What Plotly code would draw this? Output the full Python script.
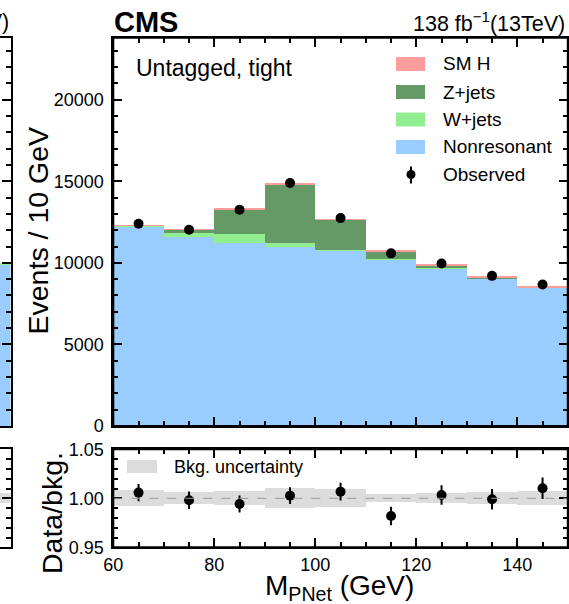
import plotly.graph_objects as go

# ---- binned M_PNet spectrum, 60-150 GeV in 10 GeV bins ----
bin_centers = [65, 75, 85, 95, 105, 115, 125, 135, 145]
bin_width = 10

nonresonant = [12250, 11610, 11245, 10980, 10770, 10240, 9690, 9060, 8485]
w_jets = [40, 230, 515, 230, 30, 10, 30, 15, 10]
z_jets = [10, 200, 1540, 3620, 1870, 490, 140, 60, 25]
sm_higgs = [15, 25, 30, 35, 30, 55, 80, 85, 55]

observed = [12393, 12025, 13252, 14890, 12742, 10583, 9957, 9202, 8669]
observed_err = [111, 110, 115, 122, 113, 103, 100, 96, 93]

# ratio panel
ratio = [1.0058, 0.9980, 0.9942, 1.0027, 1.0068, 0.9819, 1.0034, 0.9990, 1.0103]
ratio_err = [0.0089, 0.0089, 0.0087, 0.0085, 0.0090, 0.0095, 0.0100, 0.0104, 0.0110]
bkg_unc = [0.0077, 0.0060, 0.0068, 0.0099, 0.0092, 0.0036, 0.0055, 0.0058, 0.0071]

# neighbouring category panel (only its last bin edge is in view)
nb_centers = [145]
nb_nonresonant = [9940]
nb_w_jets = [45]
nb_unc = [0.005]

x_ticks = [60, 80, 100, 120, 140]
x_tick_text = ["60", "80", "100", "120", "140"]
y_ticks = [0, 5000, 10000, 15000, 20000]
y_tick_text = ["0", "5000", "10000", "15000", "20000"]
r_ticks = [0.95, 1.00, 1.05]
r_tick_text = ["0.95", "1.00", "1.05"]

COL_H = "#ff9c9c"
COL_Z = "#659965"
COL_W = "#91ee91"
COL_NR = "#99ccff"
COL_UNC = "#dcdcdc"

FONT = "Liberation Sans, Arial, Helvetica, sans-serif"
W, H = 569, 604


def px(x):
    return x / W


def py(y):
    return 1 - y / H


fig = go.Figure()

# stacked backgrounds, bottom to top
for name, vals, col in [("Nonresonant", nonresonant, COL_NR),
                        ("W+jets", w_jets, COL_W),
                        ("Z+jets", z_jets, COL_Z),
                        ("SM H", sm_higgs, COL_H)]:
    fig.add_trace(go.Bar(x=bin_centers, y=vals, width=bin_width, name=name,
                         marker=dict(color=col, line=dict(width=0)),
                         xaxis="x", yaxis="y", showlegend=False))

fig.add_trace(go.Scatter(x=bin_centers, y=observed, mode="markers",
                         error_y=dict(type="data", array=observed_err, color="black",
                                      thickness=2, width=0),
                         marker=dict(color="black", size=10),
                         xaxis="x", yaxis="y", showlegend=False))

# ratio panel: background uncertainty band and data/bkg points
fig.add_trace(go.Bar(x=bin_centers, y=[2 * u for u in bkg_unc],
                     base=[1 - u for u in bkg_unc], width=bin_width,
                     marker=dict(color=COL_UNC, line=dict(width=0)),
                     xaxis="x2", yaxis="y2", showlegend=False))
fig.add_trace(go.Scatter(x=bin_centers, y=ratio, mode="markers",
                         error_y=dict(type="data", array=ratio_err, color="black",
                                      thickness=2, width=0),
                         marker=dict(color="black", size=10),
                         xaxis="x2", yaxis="y2", showlegend=False))

# neighbouring panel
fig.add_trace(go.Bar(x=nb_centers, y=nb_nonresonant, width=bin_width,
                     marker=dict(color=COL_NR, line=dict(width=0)),
                     xaxis="x3", yaxis="y3", showlegend=False))
fig.add_trace(go.Bar(x=nb_centers, y=nb_w_jets, width=bin_width,
                     marker=dict(color=COL_W, line=dict(width=0)),
                     xaxis="x3", yaxis="y3", showlegend=False))
fig.add_trace(go.Bar(x=nb_centers, y=[2 * u for u in nb_unc],
                     base=[1 - u for u in nb_unc], width=bin_width,
                     marker=dict(color=COL_UNC, line=dict(width=0)),
                     xaxis="x4", yaxis="y4", showlegend=False))

main_x = [px(113.3), px(567.8)]
main_y = [py(426), py(37.7)]
rat_y = [py(547.3), py(449.3)]
nb_x = [0, px(10.5)]

TICK = dict(tickcolor="black", tickwidth=1.5)
axis_common = dict(showline=True, linecolor="black", linewidth=2, mirror="allticks",
                   ticks="inside", showgrid=False, zeroline=False, automargin=False,
                   layer="above traces",
                   tickfont=dict(family=FONT, size=18, color="black"), **TICK)
side_common = dict(showline=True, linecolor="black", linewidth=2, showgrid=False,
                   zeroline=False, automargin=False, layer="above traces",
                   showticklabels=False)

fig.update_layout(
    width=W, height=H, margin=dict(l=0, r=0, t=0, b=0, autoexpand=False),
    paper_bgcolor="white", plot_bgcolor="white",
    barmode="stack", bargap=0, showlegend=False,
    font=dict(family=FONT, color="black"),
    xaxis=dict(domain=main_x, range=[60, 150], anchor="y", tickvals=x_ticks,
               ticktext=x_tick_text, showticklabels=False, ticklen=9,
               minor=dict(ticks="inside", dtick=5, tick0=60, ticklen=5, **TICK),
               **axis_common),
    yaxis=dict(domain=main_y, range=[0, 23800], anchor="x", tickvals=y_ticks,
               ticktext=y_tick_text, ticklen=9, ticklabelstandoff=4,
               minor=dict(ticks="inside", dtick=1000, ticklen=5, **TICK),
               **axis_common),
    xaxis2=dict(domain=main_x, range=[60, 150], anchor="y2", tickvals=x_ticks,
                ticktext=x_tick_text, ticklen=9,
                minor=dict(ticks="inside", dtick=5, tick0=60, ticklen=5, **TICK),
                **axis_common),
    yaxis2=dict(domain=rat_y, range=[0.95, 1.05], anchor="x2", tickvals=r_ticks,
                ticktext=r_tick_text, ticklen=9, ticklabelstandoff=4,
                minor=dict(ticks="inside", dtick=0.01, tick0=0.95, ticklen=5, **TICK),
                **axis_common),
    xaxis3=dict(domain=nb_x, range=[148, 150], anchor="y3", mirror=True, ticks="",
                **side_common),
    yaxis3=dict(domain=main_y, range=[0, 23800], anchor="x3", side="right",
                ticks="inside", tickvals=y_ticks, ticklen=9,
                minor=dict(ticks="inside", dtick=1000, ticklen=5, **TICK),
                **TICK, **side_common),
    xaxis4=dict(domain=nb_x, range=[148, 150], anchor="y4", mirror=True, ticks="",
                **side_common),
    yaxis4=dict(domain=rat_y, range=[0.95, 1.05], anchor="x4", side="right",
                ticks="inside", tickvals=r_ticks, ticklen=9,
                minor=dict(ticks="inside", dtick=0.01, tick0=0.95, ticklen=5, **TICK),
                **TICK, **side_common),
)

shapes = []
# unity reference line in the ratio panel
shapes.append(dict(type="line", xref="x2 domain", yref="y2", x0=0, x1=1, y0=1, y1=1,
                   line=dict(color="#999999", width=1, dash="dash"), layer="above"))
# panel frames
for xr, yr in [("x", "y"), ("x2", "y2")]:
    shapes.append(dict(type="rect", xref=f"{xr} domain", yref=f"{yr} domain",
                       x0=0, x1=1, y0=0, y1=1, line=dict(color="black", width=2),
                       fillcolor="rgba(0,0,0,0)", layer="above"))

annotations = []


def text(x, y, s, size, xanchor="left", yanchor="middle", angle=0, bold=False):
    annotations.append(dict(xref="paper", yref="paper", x=px(x), y=py(y),
                            text=f"<b>{s}</b>" if bold else s, showarrow=False,
                            xanchor=xanchor, yanchor=yanchor, textangle=angle,
                            font=dict(family=FONT, size=size, color="black")))


# legend of the main panel
legend_rows = [("SM H", COL_H, 64), ("Z+jets", COL_Z, 92),
               ("W+jets", COL_W, 119.5), ("Nonresonant", COL_NR, 147)]
for label, col, yc in legend_rows:
    shapes.append(dict(type="rect", xref="paper", yref="paper",
                       x0=px(396), x1=px(425), y0=py(yc + 7), y1=py(yc - 7),
                       fillcolor=col, line=dict(width=0)))
    text(441, yc, label, 19)
shapes.append(dict(type="line", xref="paper", yref="paper", x0=px(411), x1=px(411),
                   y0=py(183.5), y1=py(166.5), line=dict(color="black", width=2)))
shapes.append(dict(type="circle", xref="paper", yref="paper", x0=px(406.5), x1=px(415.5),
                   y0=py(179), y1=py(170), fillcolor="black", line=dict(width=0)))
text(441, 174.5, "Observed", 19)

# legend of the ratio panel
shapes.append(dict(type="rect", xref="paper", yref="paper",
                   x0=px(127), x1=px(157), y0=py(473), y1=py(460),
                   fillcolor=COL_UNC, line=dict(width=0)))
text(172, 466.5, "Bkg. uncertainty", 18)

# headers and labels
text(111.5, 22, "CMS", 29, bold=True)
text(567, 22, "138 fb<sup>−1</sup>(13TeV)", 21.5, xanchor="right")
text(10.5, 22, "(13TeV)", 21.5, xanchor="right")
text(134, 67.5, "Untagged, tight", 23)
text(37.5, 231, "Events / 10 GeV", 28.5, xanchor="center", angle=-90)
text(52, 513, "Data/bkg.", 28.5, xanchor="center", angle=-90)
text(339, 587, "M<sub>PNet</sub> (GeV)", 28, xanchor="center")

fig.update_layout(shapes=shapes, annotations=annotations)

fig.write_html("out.html")
